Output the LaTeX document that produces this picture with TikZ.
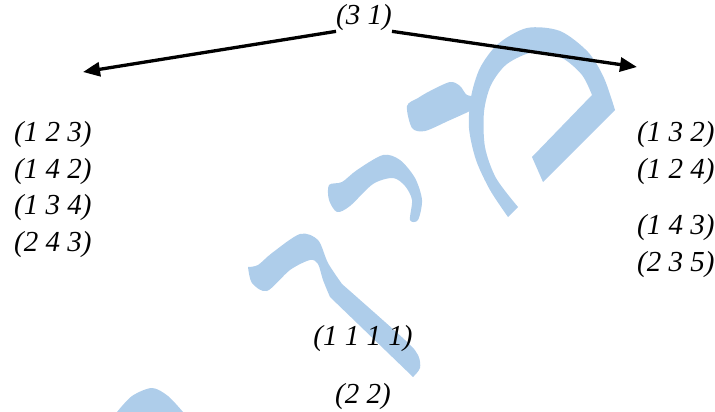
\documentclass[tikz,border=0pt]{standalone}
\usepackage{fontspec}
\setmainfont{Liberation Serif}
\usetikzlibrary{arrows.meta}
\definecolor{wm}{RGB}{174,205,234}
\begin{document}
\begin{tikzpicture}[x=1pt,y=-1pt,
  lbl/.style={font=\fontsize{29}{31}\selectfont\itshape, inner sep=0pt},
  arr/.style={line width=3.3pt,-{Triangle[length=17pt,width=14pt]}},
  wmark/.style={fill=wm, draw=none}]
\useasboundingbox (0,0) rectangle (715,412);
% watermark
\fill[wmark] (508,217) -- plot[smooth] coordinates {(508,217) (490,190) (476,160) (469,128) (471,97) (480,68) (498,44) (527,28) (560,31) (588,52) (604,78) (615,110)}
  -- (543,182) -- (532,157) -- plot[smooth] coordinates {(592,95) (582,75) (562,58) (534,52) (507,64) (491,85) (484,112) (485,147) (496,178) (518,207)} -- cycle;
\fill[wmark] plot[smooth cycle] coordinates {(407,106) (418,98) (430,91) (450,82) (460,86) (467,95) (478,97) (478,106) (470,111) (448,121) (425,131) (412,128)};
\fill[wmark] plot[smooth cycle] coordinates {(329,185) (342,182) (357,170) (383,155) (400,160) (415,178) (422,200) (418,220) (410,220) (412,200) (405,186) (393,178) (373,184) (350,206) (337,212) (329,200)};
\fill[wmark] (248,267) -- plot[smooth] coordinates {(248,267) (258,265) (272,253) (300,234) (318,240) (328,263) (342,284)} -- plot[smooth] coordinates {(342,284) (405,340) (418,355) (420,368) (413,377)} -- (330,297) -- plot[smooth] coordinates {(330,297) (323,280) (318,264) (310,260) (290,270) (267,291) (252,283) (248,267)} -- cycle;
\fill[wmark] (117,412) -- plot[smooth] coordinates {(117,412) (132,396) (152,388) (168,396) (183,412)} -- cycle;
% labels
\node[lbl] (top) at (364,18) {(3 1)};
\node[lbl, anchor=west] (l1) at (14,135) {(1 2 3)};
\node[lbl, anchor=west] (l2) at (14,172) {(1 4 2)};
\node[lbl, anchor=west] (l3) at (14,208) {(1 3 4)};
\node[lbl, anchor=west] (l4) at (14,245) {(2 4 3)};
\node[lbl, anchor=west] (r1) at (637,135) {(1 3 2)};
\node[lbl, anchor=west] (r2) at (637,172) {(1 2 4)};
\node[lbl, anchor=west] (r3) at (637,228) {(1 4 3)};
\node[lbl, anchor=west] (r4) at (637,265) {(2 3 5)};
\node[lbl] (b1) at (363,339) {(1 1 1 1)};
\node[lbl] (b2) at (363,397) {(2 2)};
% arrows
\coordinate (lt) at (83,72);
\coordinate (rt) at (637,67);
\draw[arr] (top.south west) -- (lt);
\draw[arr] (top.south east) -- (rt);
\end{tikzpicture}
\end{document}
